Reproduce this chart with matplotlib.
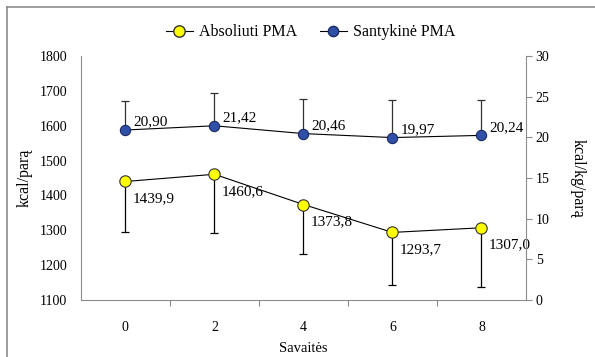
import matplotlib.pyplot as plt
from matplotlib.lines import Line2D

# data
weeks = ["0", "2", "4", "6", "8"]
absolute = [1439.9, 1460.6, 1373.8, 1293.7, 1307.0]
absolute_sd = [145, 170, 141, 151, 169]
relative = [20.90, 21.42, 20.46, 19.97, 20.24]
relative_sd = [3.6, 4.0, 4.2, 4.6, 4.3]

plt.rcParams['font.family'] = ['Liberation Serif', 'DejaVu Serif']

YELLOW = "#FFFF00"
BLUE = "#3050A8"
GRAY = "#8C8C8C"


def fmt(v, nd):
	return ("{0:.%df}" % nd).format(v).replace(".", ",")


def plot_data():
	fig = plt.figure(figsize=(5.95, 3.57), dpi=100)
	ax = fig.add_axes([0.136, 0.160, 0.748, 0.683])
	ax2 = ax.twinx()
	x = list(range(len(weeks)))

	# absolute PMA, lower error bars only
	ax.errorbar(x, absolute, yerr=[absolute_sd, [0] * len(x)], fmt='none',
		ecolor='black', elinewidth=0.9, capsize=3, capthick=0.9, zorder=2)
	ax.plot(x, absolute, '-', color='black', lw=0.8, marker='o', ms=8.2,
		mfc=YELLOW, mec='#333333', mew=0.8, zorder=3)
	for xi, v in zip(x, absolute):
		ax.annotate(fmt(v, 1), (xi, v), xytext=(7, -17), textcoords='offset pixels',
			ha='left', va='center', fontsize=11)

	# relative PMA, upper error bars only
	ax2.errorbar(x, relative, yerr=[[0] * len(x), relative_sd], fmt='none',
		ecolor='#333333', elinewidth=0.9, capsize=3, capthick=0.9, zorder=2)
	ax2.plot(x, relative, '-', color='black', lw=0.8, marker='o', ms=7.4,
		mfc=BLUE, mec='#1a2a60', mew=0.8, zorder=3)
	for xi, v in zip(x, relative):
		ax2.annotate(fmt(v, 2), (xi, v), xytext=(8, 8), textcoords='offset pixels',
			ha='left', va='center', fontsize=11)

	ax.set_xlim(-0.5, len(weeks) - 0.5)
	ax.set_ylim(1100, 1800)
	ax2.set_ylim(0, 30)
	ax.set_yticks(range(1100, 1801, 100))
	ax2.set_yticks(range(0, 31, 5))

	ax.set_xticks([i + 0.5 for i in range(len(weeks) - 1)])
	ax.set_xticklabels([])
	ax.set_xticks(x, minor=True)
	ax.set_xticklabels(weeks, minor=True)
	ax.tick_params(axis='x', which='major', direction='out', length=4, color=GRAY)
	ax.tick_params(axis='x', which='minor', length=0, pad=15, labelsize=10)
	ax.tick_params(axis='y', length=0, pad=10, labelsize=10)
	ax2.tick_params(axis='y', direction='out', length=4, color=GRAY, pad=3, labelsize=10)

	for a in (ax, ax2):
		a.spines['top'].set_visible(False)
		for s in ('left', 'right', 'bottom'):
			a.spines[s].set_color(GRAY)
	ax.spines['right'].set_visible(False)
	ax2.spines['left'].set_visible(False)
	ax2.spines['bottom'].set_visible(False)

	ax.set_xlabel("Savaitės", fontsize=10.5, labelpad=6)
	ax.set_ylabel("kcal/parą", fontsize=11.5, labelpad=5)
	ax2.set_ylabel("kcal/kg/parą", fontsize=11.5, rotation=270, labelpad=26)

	handles = [
		Line2D([], [], color='black', lw=0.8, marker='o', ms=8.2, mfc=YELLOW, mec='#333333'),
		Line2D([], [], color='black', lw=0.8, marker='o', ms=7.4, mfc=BLUE, mec='#1a2a60'),
	]
	fig.legend(handles, ["Absoliuti PMA", "Santykinė PMA"], loc='center',
		bbox_to_anchor=(0.522, 0.91), ncol=2, frameon=False, fontsize=11.5,
		handlelength=1.7, columnspacing=1.4, handletextpad=0.4)

	# outer frame, only top and left edges visible in the crop
	fig.add_artist(Line2D([0.012, 1.0], [0.980, 0.980], color=GRAY, lw=1.2,
		transform=fig.transFigure))
	fig.add_artist(Line2D([0.012, 0.012], [0.0, 0.980], color=GRAY, lw=1.2,
		transform=fig.transFigure))

	fig.savefig("out.png", dpi=100)


def main():
	plot_data()

if __name__ == '__main__':
	main()
